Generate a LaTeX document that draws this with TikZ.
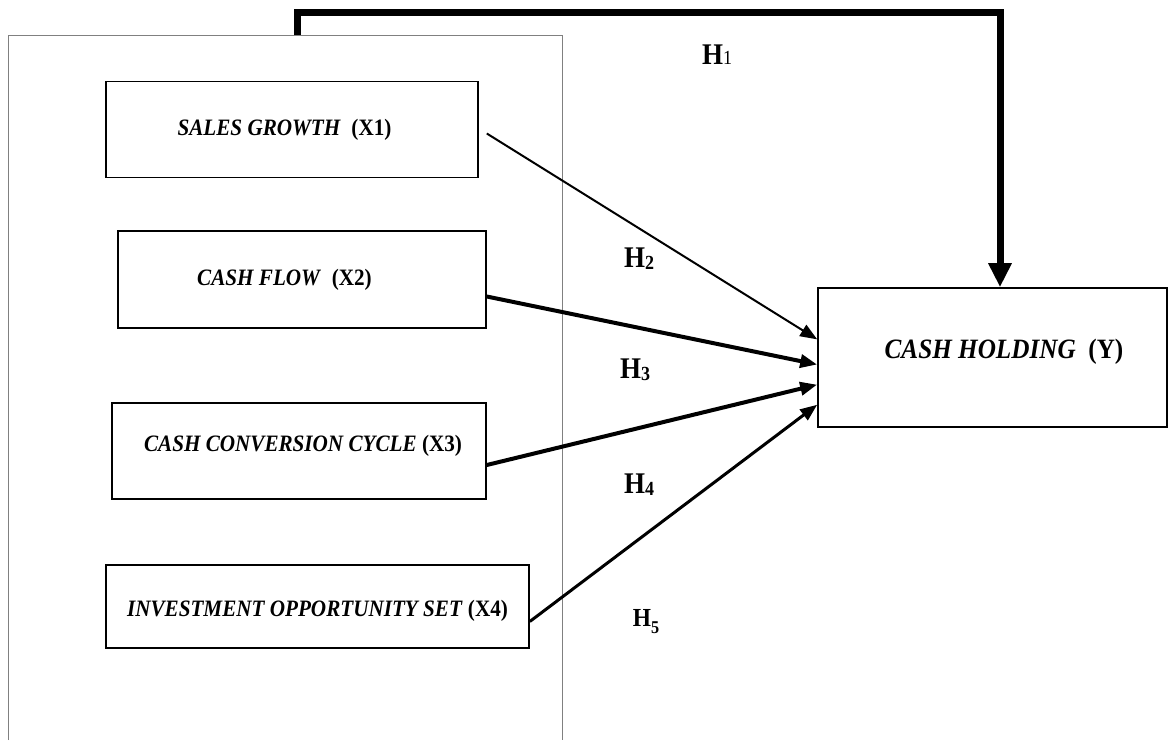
\documentclass[tikz,border=0pt]{standalone}
\usepackage{fontspec}
\setmainfont{Liberation Serif}[FakeStretch=0.9]
\usetikzlibrary{arrows.meta,calc}
\begin{document}
\begin{tikzpicture}[x=1pt,y=-1pt,
    varbox/.style={draw=black,line width=1.6pt,inner sep=0pt,font=\fontsize{23.5}{27}\selectfont\bfseries},
    hyp/.style={font=\fontsize{30}{34}\selectfont\bfseries},
    link/.style={line width=#1,-{Triangle[length=17pt,width=13pt]}}]
  \useasboundingbox (0,0) rectangle (1168,740);
  \draw[line width=1pt,color=gray] (8,740) -- (8,35) -- (562,35) -- (562,740); % Frame round the independent variables

  % The variable boxes
  \node[varbox,minimum width=372pt,minimum height=96pt] (sales) at (292,129.5) {\textit{SALES GROWTH}\ \ (X1)\hspace*{15pt}};
  \node[varbox,minimum width=368pt,minimum height=97pt] (flow) at (302,279.5) {\textit{CASH FLOW}\ \ (X2)\hspace*{35pt}};
  \node[varbox,minimum width=374pt,minimum height=96pt] (ccc) at (299,451) {\hspace*{8pt}\textit{CASH CONVERSION CYCLE} (X3)\rule[-15.5pt]{0pt}{0pt}};
  \node[varbox,minimum width=423pt,minimum height=83pt] (ios) at (317.5,606.5) {\textit{INVESTMENT OPPORTUNITY SET} (X4)\rule{0pt}{25pt}};
  \node[varbox,minimum width=349pt,minimum height=139pt,font=\fontsize{28}{32}\selectfont\bfseries] (hold) at (992.5,357.5) {\hspace*{23pt}\textit{CASH HOLDING}\ \ (Y)\rule[-17pt]{0pt}{0pt}};

  % Mark the hypothesis labels
  \node[hyp] (h1) at (717,55) {H{\fontsize{20}{20}\selectfont\mdseries 1}};
  \node[hyp] (h2) at (639,259) {H\raisebox{-2pt}{\fontsize{20}{20}\selectfont 2}};
  \node[hyp] (h3) at (635,370) {H\raisebox{-2pt}{\fontsize{20}{20}\selectfont 3}};
  \node[hyp] (h4) at (639,485) {H\raisebox{-2pt}{\fontsize{20}{20}\selectfont 4}};
  \node[hyp,font=\fontsize{26}{30}\selectfont\bfseries] (h5) at (646,622) {H\raisebox{-7pt}{\fontsize{18}{18}\selectfont 5}};

  % The paths into cash holding
  \coordinate (top) at (297,35);
  \draw[line width=7pt,-{Triangle[length=24pt,width=22pt]}] (top) -- ++(0,-22.5) -| (hold.north -| 1000,0);
  \draw[link=2pt] ($(sales.east)+(8,4)$) -- ($(hold.north west)!0.371!(hold.south west)$);
  \draw[link=4pt] ($(flow.east)+(0,17)$) -- ($(hold.north west)!0.55!(hold.south west)$);
  \draw[link=4pt] ($(ccc.east)+(0,14)$) -- ($(hold.north west)!0.693!(hold.south west)$);
  \draw[link=3pt] ($(ios.east)+(0,15)$) -- ($(hold.north west)!0.836!(hold.south west)$);
\end{tikzpicture}
\end{document}
